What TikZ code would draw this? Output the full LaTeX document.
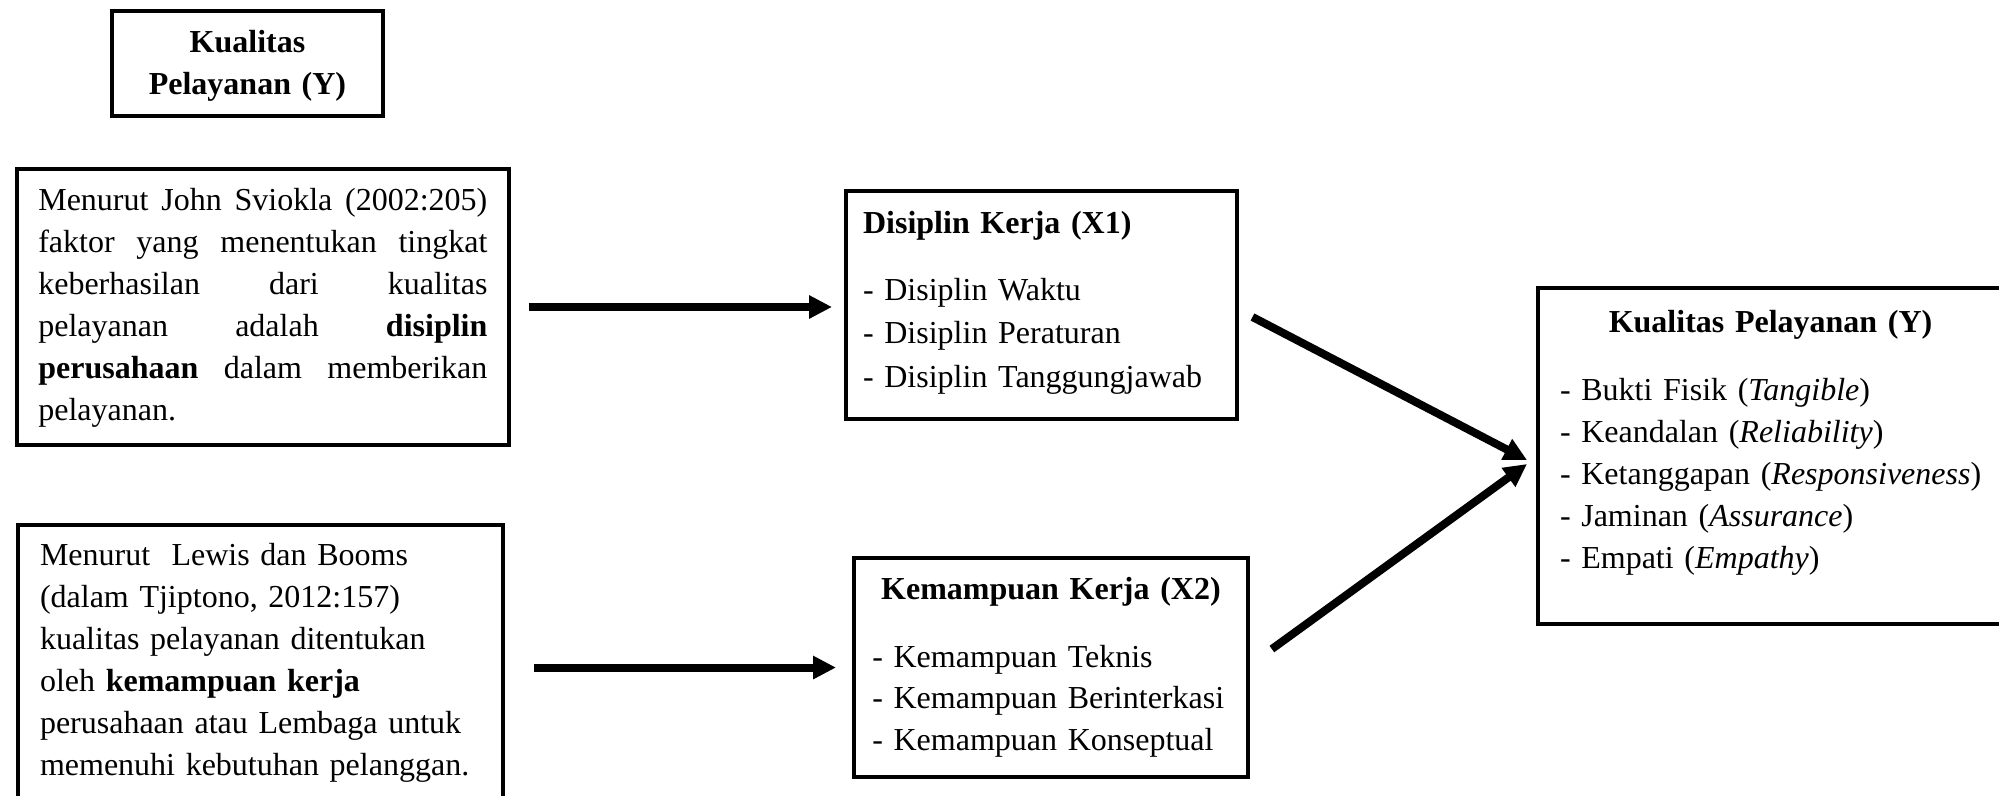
\documentclass[tikz,border=0pt]{standalone}
\usepackage{fontspec}
\setmainfont{Liberation Serif}
\usetikzlibrary{calc,arrows.meta}
\tolerance=10000
\hyphenpenalty=10000

\begin{document}
\begin{tikzpicture}[
    x=0.375pt, y=-0.375pt,
    box/.style={draw=black, line width=1.5pt, anchor=north west, inner ysep=0pt, font=\fontsize{12}{15.75}\selectfont},
    main arrow/.style={line width=3pt, -{Triangle[length=8.6pt, width=8.25pt]}}
]
\path[use as bounding box, fill=white] (0,0) rectangle (1999,795);
\clip (0,0) rectangle (1999,795);

% judul
\node[box, text width=101.6pt, inner xsep=0pt, align=center, text height=15.4pt, text depth=24pt, font=\fontsize{12}{16}\selectfont\bfseries] (T) at (110,9) {Kualitas\\ Pelayanan (Y)};

% teori
\node[box, text width=168.4pt, inner xsep=8pt, align=justify, text height=15.4pt, text depth=88.1pt] (A) at (15,167)
  {Menurut John Sviokla (2002:205)\linebreak faktor yang menentukan tingkat\linebreak keberhasilan dari kualitas\linebreak pelayanan adalah \textbf{disiplin}\linebreak \textbf{perusahaan} dalam memberikan\linebreak pelayanan.};
\node[box, text width=165.4pt, inner xsep=8.25pt, align=left, text height=15pt, text depth=92.6pt] (B) at (16,523)
  {Menurut\ \ Lewis dan Booms\\ (dalam Tjiptono, 2012:157)\\ kualitas pelayanan ditentukan\\ oleh \textbf{kemampuan kerja}\\ perusahaan atau Lembaga untuk\\ memenuhi kebutuhan pelanggan.};

% variabel
\node[box, text width=134pt, inner xsep=6.4pt, align=left, text height=16.1pt, text depth=69.4pt, font=\fontsize{12}{16.3}\selectfont] (X1) at (844,189)
  {\textbf{Disiplin Kerja (X1)}\\[8.5pt] - Disiplin Waktu\\ - Disiplin Peraturan\\ - Disiplin Tanggungjawab};
\node[box, text width=134pt, inner xsep=6.85pt, align=left, text height=15.4pt, text depth=66.75pt, font=\fontsize{12}{15.6}\selectfont] (X2) at (852,556)
  {\makebox[\linewidth]{\textbf{Kemampuan Kerja (X2)}}\\[9.9pt] - Kemampuan Teknis\\ - Kemampuan Berinterkasi\\ - Kemampuan Konseptual};
\node[box, text width=162pt, inner xsep=8.25pt, align=left, text height=16.5pt, text depth=109.5pt] (Y) at (1536,286)
  {\makebox[157.9pt]{\textbf{Kualitas Pelayanan (Y)}}\\[9.75pt] - Bukti Fisik (\textit{Tangible})\\ - Keandalan (\textit{Reliability})\\ - Ketanggapan (\textit{Responsiveness})\\ - Jaminan (\textit{Assurance})\\ - Empati (\textit{Empathy})};

% panah
\draw[main arrow, shorten <=6.75pt, shorten >=4.5pt] (A.east) -- (A.east -| X1.west);
\draw[main arrow, shorten <=10.9pt, shorten >=6pt] (B.east |- X2.west) -- (X2.west);
\draw[main arrow] ($(X1.east)+(13,12)$) -- ($(Y.west)+(-9,4)$);
\draw[main arrow] ($(X2.east)+(22,-18.5)$) -- ($(Y.west)+(-9,8)$);

\end{tikzpicture}
\end{document}
